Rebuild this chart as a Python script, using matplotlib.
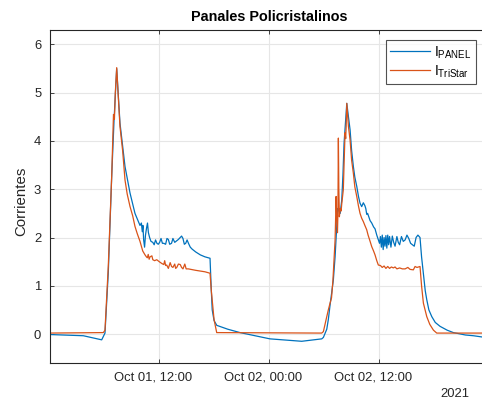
import numpy as np
import pandas as pd
import matplotlib
matplotlib.use("Agg")
import matplotlib.pyplot as plt
import matplotlib.transforms as mtransforms

plt.rcParams['font.family'] = ['Liberation Sans', 'DejaVu Sans']

start = pd.Timestamp("2021-10-01 00:00")

# I_PANEL: hours since start, current
panel_h = [0, 3.7, 5.71, 6.07, 6.43, 6.81, 7.06, 7.35, 7.71, 8.26, 8.81, 9.35,
           9.90, 10.05, 10.15, 10.22, 10.30, 10.40, 10.50, 10.62, 10.72, 10.82, 10.95,
           11.1, 11.3, 11.45, 11.6, 11.75, 11.9, 12.05, 12.2, 12.35, 12.5, 12.7, 12.85,
           13.0, 13.15, 13.35, 13.5, 13.7, 13.9, 14.1, 14.3, 14.45, 14.6, 14.75, 14.9,
           15.05, 15.2, 15.4, 15.6, 16.0, 16.5, 17.0, 17.56, 17.7, 17.8, 18.0, 18.3,
           19.5, 20.84, 24.12, 27.59, 29.78, 29.96, 30.33, 30.5, 30.69, 31.05, 31.24,
           31.42, 31.5, 31.6, 31.7, 31.8, 31.97, 32.1, 32.22, 32.35, 32.52, 32.7, 32.88,
           33.05, 33.24, 33.4, 33.61, 33.8, 33.97, 34.15, 34.33, 34.5, 34.6, 34.7, 34.8,
           35.07, 35.25, 35.45, 35.61, 35.8, 35.97, 36.1, 36.2, 36.3, 36.4, 36.5, 36.6,
           36.7, 36.8, 36.9, 37.0, 37.1, 37.2, 37.35, 37.5, 37.65, 37.8, 38.0, 38.15,
           38.3, 38.5, 38.7, 38.9, 39.1, 39.3, 39.5, 39.7, 39.9, 40.1, 40.3, 40.53,
           40.7, 40.9, 41.1, 41.27, 41.5, 41.82, 42.2, 42.72, 43.5, 44.18, 45.5, 46.37,
           47.3, 48.0]
panel_i = [-0.01, -0.035, -0.12, 0.02, 1.27, 3.3, 4.43, 5.5, 4.37, 3.47, 2.92, 2.5,
           2.25, 2.30, 2.12, 2.25, 1.95, 1.80, 2.05, 2.20, 2.30, 2.10, 2.00,
           1.92, 1.90, 1.85, 1.95, 1.88, 1.86, 1.90, 1.98, 1.88, 1.88, 1.86, 1.98,
           1.96, 1.86, 1.88, 1.98, 1.90, 1.93, 1.96, 2.00, 2.03, 1.98, 1.86, 1.88,
           1.95, 1.88, 1.80, 1.76, 1.70, 1.64, 1.60, 1.57, 0.9, 0.5, 0.28, 0.18,
           0.1, 0.03, -0.1, -0.15, -0.10, -0.07, 0.1, 0.3, 0.6, 1.12, 1.6,
           2.23, 2.6, 2.55, 2.6, 2.5, 2.78, 3.3, 3.95, 4.3, 4.78, 4.5, 4.23,
           3.8, 3.47, 3.25, 3.06, 2.85, 2.71, 2.64, 2.72, 2.66, 2.60, 2.48, 2.50,
           2.35, 2.30, 2.22, 2.18, 2.05, 1.95, 1.88, 2.02, 1.80, 2.05, 1.75, 2.0,
           1.82, 2.04, 1.78, 2.05, 1.85, 2.02, 1.80, 2.03, 1.90, 1.82, 2.02, 1.90,
           1.85, 2.02, 1.92, 1.95, 2.05, 1.98, 1.88, 1.85, 1.82, 2.0, 2.05, 2.0,
           1.6, 1.26, 0.9, 0.71, 0.5, 0.36, 0.24, 0.16, 0.08, 0.03, -0.02, -0.035,
           -0.06, -0.08]

# I_TriStar: hours since start, current
tristar_h = [0, 5.89, 6.07, 6.43, 6.81, 7.0, 7.1, 7.2, 7.35, 7.5, 7.71, 8.0, 8.26,
             8.5, 8.81, 9.1, 9.35, 9.6, 9.90, 10.2, 10.45, 10.6, 10.7, 10.8, 10.9,
             11.0, 11.2, 11.3, 11.5, 11.73, 12.0, 12.3, 12.5, 12.6, 12.7, 12.82, 13.0,
             13.2, 13.35, 13.5, 13.7, 13.8, 13.92, 14.1, 14.3, 14.45, 14.6, 14.8, 14.95,
             15.19, 16.0, 17.0, 17.56, 17.7, 18.0, 18.29, 29.78, 29.96, 30.33, 30.5,
             30.69, 30.85, 31.0, 31.24, 31.3, 31.35, 31.42, 31.5, 31.55, 31.6, 31.65,
             31.71, 31.8, 31.9, 31.97, 32.14, 32.22, 32.33, 32.4, 32.45, 32.52, 32.7,
             32.88, 33.05, 33.24, 33.4, 33.61, 33.8, 33.97, 34.15, 34.33, 34.5, 34.7,
             34.85, 35.07, 35.25, 35.45, 35.61, 35.8, 35.97, 36.2, 36.4, 36.6, 36.8,
             37.0, 37.2, 37.4, 37.61, 37.8, 38.0, 38.3, 38.6, 38.9, 39.2, 39.44, 39.8,
             39.99, 40.2, 40.53, 40.7, 40.9, 41.27, 41.6, 42.0, 42.36, 48.0]
tristar_i = [0.02, 0.03, 0.08, 1.4, 3.3, 4.55, 4.45, 5.0, 5.52, 5.0, 4.3, 3.8, 3.19,
             2.9, 2.64, 2.45, 2.23, 2.08, 1.92, 1.72, 1.64, 1.60, 1.58, 1.65, 1.55,
             1.60, 1.62, 1.54, 1.52, 1.54, 1.50, 1.46, 1.44, 1.52, 1.42, 1.43, 1.36,
             1.48, 1.40, 1.38, 1.45, 1.36, 1.38, 1.45, 1.44, 1.38, 1.35, 1.45, 1.35,
             1.35, 1.32, 1.29, 1.26, 0.9, 0.3, 0.03, 0.02, 0.05, 0.36, 0.5,
             0.64, 0.75, 1.1, 1.95, 2.4, 2.85, 2.4, 2.1, 2.5, 4.06, 3.0,
             2.43, 2.6, 2.55, 2.7, 2.99, 3.5, 4.17, 4.05, 4.3, 4.78, 4.3,
             4.02, 3.6, 3.33, 3.05, 2.85, 2.65, 2.5, 2.40, 2.33, 2.25, 2.16,
             2.05, 1.92, 1.81, 1.72, 1.64, 1.52, 1.43, 1.42, 1.38, 1.41, 1.36,
             1.40, 1.36, 1.39, 1.37, 1.39, 1.35, 1.37, 1.35, 1.35, 1.38, 1.34, 1.33,
             1.40, 1.38, 1.40, 1.0, 0.64, 0.36, 0.2, 0.08, 0.02, 0.02]

panel_t = start + pd.to_timedelta(panel_h, unit="h")
tristar_t = start + pd.to_timedelta(tristar_h, unit="h")

tick_labels = ["Oct 01, 12:00", "Oct 02, 00:00", "Oct 02, 12:00"]
tick_times = [pd.Timestamp("2021-10-01 12:00"), pd.Timestamp("2021-10-02 00:00"),
              pd.Timestamp("2021-10-02 12:00")]

fig = plt.figure(figsize=(4.82, 4.01), dpi=100)
W, H = 482, 401
AX_L, AX_R, AX_T, AX_B = 49.5, 488.3, 29.5, 363
ax = fig.add_axes([AX_L / W, 1 - AX_B / H, (AX_R - AX_L) / W, (AX_B - AX_T) / H])

ax.plot(panel_t, panel_i, color="#0072BD", lw=0.9, label=r"I$_{\mathregular{PANEL}}$")
ax.plot(tristar_t, tristar_i, color="#D95319", lw=0.9, label=r"I$_{\mathregular{TriStar}}$")

ax.set_xlim(start, start + pd.Timedelta(hours=48))
ax.set_ylim(-0.6, 6.31)
ax.set_xticks(tick_times)
ax.set_xticklabels(tick_labels)
ax.set_yticks(range(0, 7))

ax.grid(True, color="#e6e6e6", lw=0.8)
ax.set_axisbelow(True)
for s in ax.spines.values():
    s.set_color("#262626")
    s.set_linewidth(0.8)
ax.tick_params(direction="in", length=3, width=0.6, colors="#262626",
               labelsize=9.4, top=True, right=True, pad=6)

shift = mtransforms.ScaledTranslation(-6 / 100, 0, fig.dpi_scale_trans)
for lbl in ax.get_xticklabels():
    lbl.set_transform(lbl.get_transform() + shift)

ax.set_title("Panales Policristalinos", fontsize=10.4, fontweight="bold", pad=6)
ax.set_ylabel("Corrientes", fontsize=10.8, color="#262626")
ax.yaxis.set_label_coords((28.5 - AX_L) / (AX_R - AX_L), (AX_B - 201) / (AX_B - AX_T))

fig.text(455 / W, 1 - 397 / H, "2021", fontsize=9.4, color="#262626",
         ha="center", va="baseline")

leg = ax.legend(loc="upper right",
                bbox_to_anchor=((476 - AX_L) / (AX_R - AX_L), (AX_B - 40) / (AX_B - AX_T)),
                fontsize=10, frameon=True, fancybox=False, handlelength=2.9,
                borderpad=0.3, labelspacing=0.2, handletextpad=0.3, borderaxespad=0)
leg.get_frame().set_edgecolor("#262626")
leg.get_frame().set_linewidth(0.8)

fig.savefig("out.png", dpi=100)
